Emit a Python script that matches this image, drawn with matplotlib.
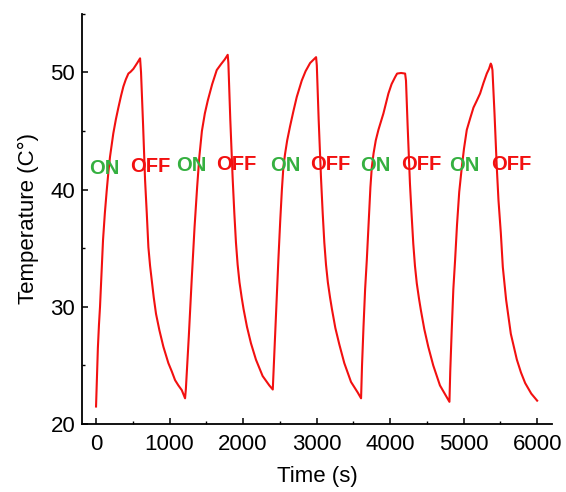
import numpy as np
import matplotlib
matplotlib.use("Agg")
import matplotlib.pyplot as plt
from matplotlib.ticker import MultipleLocator

plt.rcParams['font.family'] = ['Liberation Sans', 'DejaVu Sans']

# temperature curve, one list per on/off cycle
cycle1_t = [0, 10, 25, 40, 54, 75, 95, 120, 145, 168, 190, 235, 270, 304,
            340, 372, 405, 440, 470, 508, 560, 599,
            612, 640, 667, 690, 712, 735, 757, 785, 816, 862, 916, 984,
            1030, 1075, 1120, 1166, 1211]
cycle1_T = [21.5, 23.5, 26.5, 28.5, 30, 33, 35.7, 38, 39.9, 41.5, 42.8,
            44.8, 46, 47, 48, 48.8, 49.4, 49.9, 50.05, 50.3, 50.8, 51.2,
            50, 45.5, 40.8, 38, 35.1, 33.5, 32.3, 30.8, 29.4, 28, 26.6,
            25.2, 24.5, 23.75, 23.3, 22.9, 22.2]

cycle2_t = [1222, 1262, 1301, 1340, 1375, 1405, 1440, 1480, 1520, 1580,
            1642, 1700, 1750, 1791,
            1800, 1826, 1858, 1881, 1903, 1926, 1951, 1981, 2007, 2053,
            2107, 2175, 2266, 2357, 2404]
cycle2_T = [23, 27.5, 32.3, 36.8, 40.2, 42.8, 45, 46.5, 47.6, 49,
            50.2, 50.7, 51.1, 51.5,
            50.8, 46, 41, 38, 35.5, 33.6, 32.1, 30.8, 29.8, 28.3,
            26.9, 25.5, 24.1, 23.3, 22.95]

cycle3_t = [2418, 2440, 2460, 2480, 2505, 2528, 2548, 2570, 2600, 2639,
            2685, 2730, 2798, 2850, 2912, 2960, 2993,
            3003, 3028, 3060, 3083, 3105, 3128, 3153, 3183, 3209, 3255,
            3309, 3377, 3468, 3559, 3605]
cycle3_T = [25, 28.3, 31.2, 34, 37.3, 40, 41.9, 43.0, 44.2, 45.4,
            46.7, 47.9, 49.3, 50.1, 50.8, 51.1, 51.3,
            50.6, 46, 41, 38, 35.5, 33.6, 32.1, 30.8, 29.8, 28.2,
            26.8, 25.2, 23.6, 22.7, 22.2]

cycle4_t = [3618, 3638, 3660, 3683, 3710, 3732, 3751, 3775, 3805, 3841,
            3875, 3909, 3945, 3977, 4020, 4068, 4095, 4150, 4204,
            4216, 4238, 4270, 4293, 4315, 4338, 4363, 4393, 4419, 4465,
            4519, 4587, 4678, 4769, 4807]
cycle4_T = [25, 28.3, 31.5, 34, 37.5, 40.2, 41.9, 43.1, 44.2, 45.1,
            45.8, 46.5, 47.4, 48.2, 49, 49.6, 49.9, 49.95, 49.9,
            49.3, 45.5, 40.5, 37.8, 35.4, 33.5, 32, 30.7, 29.7, 28.1,
            26.6, 25, 23.3, 22.3, 21.9]

cycle5_t = [4818, 4838, 4860, 4884, 4910, 4940, 4975, 5005, 5043, 5090,
            5134, 5180, 5224, 5270, 5315, 5345, 5369,
            5380, 5392, 5420, 5451, 5474, 5506, 5533, 5578, 5642, 5724,
            5780, 5837, 5920, 6000]
cycle5_T = [24.5, 28, 31.5, 34, 37, 39.8, 41.9, 43.5, 45.1, 46.1,
            47, 47.6, 48.2, 49.1, 49.9, 50.3, 50.75,
            50.6, 50.2, 46.5, 41.9, 39.1, 36.3, 33.4, 30.6, 27.7, 25.5,
            24.4, 23.5, 22.6, 22.0]

# label positions
on_x = [118, 1292, 2571, 3796, 5016]
on_y = [41.8, 42.05, 42.05, 42.05, 42.05]
off_x = [735, 1902, 3188, 4417, 5642]
off_y = [41.95, 42.15, 42.15, 42.15, 42.15]

time = np.concatenate([cycle1_t, cycle2_t, cycle3_t, cycle4_t, cycle5_t])
temp = np.concatenate([cycle1_T, cycle2_T, cycle3_T, cycle4_T, cycle5_T])

fig = plt.figure(figsize=(5.66, 4.92), dpi=100)
ax = fig.add_axes([0.145, 0.138, 0.83, 0.834])

ax.plot(time, temp, color='#f21010', lw=1.5)

for x, y in zip(on_x, on_y):
    ax.text(x, y, 'ON', color='#35b040', fontsize=14.5, fontweight='bold',
            ha='center', va='center')
for x, y in zip(off_x, off_y):
    ax.text(x, y, 'OFF', color='#f21010', fontsize=14.5, fontweight='bold',
            ha='center', va='center')

ax.set_xlim(-190, 6200)
ax.set_ylim(20, 55)
ax.xaxis.set_major_locator(MultipleLocator(1000))
ax.xaxis.set_minor_locator(MultipleLocator(500))
ax.yaxis.set_major_locator(MultipleLocator(10))
ax.yaxis.set_minor_locator(MultipleLocator(5))

ax.spines['top'].set_visible(False)
ax.spines['right'].set_visible(False)
for s in ['left', 'bottom']:
    ax.spines[s].set_linewidth(1.3)

ax.tick_params(which='major', direction='in', length=4.5, width=1.1,
               labelsize=16)
ax.tick_params(which='minor', direction='in', length=2.5, width=1.0)
ax.tick_params(axis='x', which='major', pad=7)
ax.tick_params(axis='y', which='major', pad=5)

ax.set_xlabel('Time (s)', fontsize=16, labelpad=8)
ax.set_ylabel('Temperature (C°)', fontsize=16, labelpad=8)

fig.savefig('out.png', dpi=100)
